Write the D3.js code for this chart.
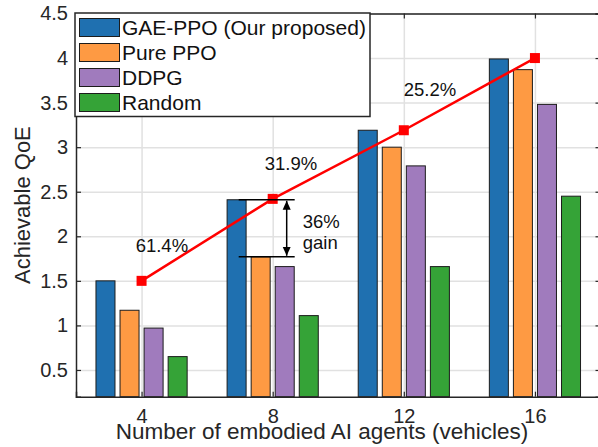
<!DOCTYPE html>
<html>
<head>
<meta charset="utf-8">
<script src="https://cdn.jsdelivr.net/npm/d3@7"></script>
<style>
  body { margin: 0; background: #fff; }
  svg { display: block; font-family: "Liberation Sans", Arial, sans-serif; }
</style>
</head>
<body>
<div id="chart"></div>
<script>
// chart data
const groups = [4, 8, 12, 16];
const series = ["GAE-PPO (Our proposed)", "Pure PPO", "DDPG", "Random"];
const colors = ["#1f70b0", "#fe9a43", "#a07bbd", "#35a337"];
const gaePpo = [1.50, 2.41, 3.19, 3.99];
const purePpo = [1.17, 1.77, 3.00, 3.87];
const ddpg = [0.97, 1.66, 2.79, 3.48];
const random = [0.65, 1.11, 1.66, 2.45];
const trend = [1.50, 2.42, 3.19, 4.00];
const gainLabels = ["61.4%", "31.9%", "25.2%"];
const gainPos = [[1.155, 1.90], [2.14, 2.82], [3.20, 3.65]];  // data coords (group index, QoE)
const yTicks = [0.5, 1, 1.5, 2, 2.5, 3, 3.5, 4, 4.5];

const values = [gaePpo, purePpo, ddpg, random];

const W = 598, H = 447;
const margin = {left: 76, top: 13.5, right: -2.5, bottom: 50.3};
const iw = W - margin.left - margin.right,
      ih = H - margin.top - margin.bottom;

const svg = d3.select("#chart").append("svg")
  .attr("width", W).attr("height", H);

const g = svg.append("g").attr("transform", `translate(${margin.left},${margin.top})`);

// groups live at 1..4 on a linear scale, xlim [0.5, 4.5]
const x = d3.scaleLinear().domain([0.5, 4.5]).range([0, iw]);
const y = d3.scaleLinear().domain([0.2, 4.5]).range([ih, 0]);
const step = x(2) - x(1);
const inner = d3.scaleBand().domain(d3.range(series.length))
  .range([-0.366 * step, 0.366 * step]).paddingInner(0.21).paddingOuter(0.1);

const axisColor = "#262626";

// grid
g.append("g").attr("class", "ygrid")
  .call(d3.axisLeft(y).tickValues(yTicks).tickSize(-iw).tickFormat(""))
  .call(s => s.select(".domain").remove())
  .call(s => s.selectAll("line").attr("stroke", "#e1e1e1").attr("stroke-width", 1.5));
g.append("g").attr("class", "xgrid")
  .attr("transform", `translate(0,${ih})`)
  .call(d3.axisBottom(x).tickValues([1, 2, 3, 4]).tickSize(-ih).tickFormat(""))
  .call(s => s.select(".domain").remove())
  .call(s => s.selectAll("line").attr("stroke", "#e1e1e1").attr("stroke-width", 1.5));

// bars
const barData = [];
values.forEach((vals, si) => vals.forEach((v, gi) => barData.push({si, gi, v})));
g.append("g").attr("class", "bars")
  .selectAll("rect")
  .data(barData)
  .join("rect")
    .attr("x", d => x(d.gi + 1) + inner(d.si))
    .attr("width", inner.bandwidth())
    .attr("y", d => y(d.v))
    .attr("height", d => y(0.2) - y(d.v))
    .attr("fill", d => colors[d.si])
    .attr("stroke", "#1c1c1c")
    .attr("stroke-width", 1);

// red trend line
const line = d3.line().x((d, i) => x(i + 1)).y(d => y(d));
g.append("path")
  .datum(trend)
  .attr("d", line)
  .attr("fill", "none")
  .attr("stroke", "#ff0000")
  .attr("stroke-width", 2.5);
g.append("g").selectAll("rect")
  .data(trend)
  .join("rect")
    .attr("x", (d, i) => x(i + 1) - 5)
    .attr("y", d => y(d) - 5)
    .attr("width", 10).attr("height", 10)
    .attr("fill", "#ff0000");

// axes (box)
const yAxisL = g.append("g")
  .call(d3.axisLeft(y).tickValues(yTicks).tickSize(-5).tickPadding(8).tickFormat(d3.format("")));
const yAxisR = g.append("g").attr("transform", `translate(${iw},0)`)
  .call(d3.axisRight(y).tickValues(yTicks).tickSize(-5).tickFormat(""));
const xAxisB = g.append("g").attr("transform", `translate(0,${ih})`)
  .call(d3.axisBottom(x).tickValues([1, 2, 3, 4]).tickSize(-5).tickPadding(12)
    .tickFormat((d, i) => groups[i]));
const xAxisT = g.append("g")
  .call(d3.axisTop(x).tickValues([1, 2, 3, 4]).tickSize(-5).tickFormat(""));
[yAxisL, yAxisR, xAxisB, xAxisT].forEach(a => {
  a.select(".domain").attr("stroke", axisColor).attr("stroke-width", 1.5);
  a.selectAll(".tick line").attr("stroke", axisColor).attr("stroke-width", 1.2);
  a.selectAll("text").attr("fill", axisColor).style("font-size", "20px")
    .style("font-family", "Liberation Sans, Arial, sans-serif");
});

// gain labels
g.append("g").selectAll("text")
  .data(gainLabels)
  .join("text")
    .attr("x", (d, i) => x(gainPos[i][0]))
    .attr("y", (d, i) => y(gainPos[i][1]))
    .attr("text-anchor", "middle")
    .attr("dominant-baseline", "central")
    .attr("fill", "#111")
    .style("font-size", "18.5px")
    .text(d => d);

// 36% gain annotation between GAE-PPO and Pure PPO at 8 agents
const ax = x(2);
const yHi = y(gaePpo[1]), yLo = y(purePpo[1]);
svg.append("defs").append("marker")
    .attr("id", "arr")
    .attr("viewBox", "0 -5 10 10")
    .attr("refX", 10).attr("refY", 0)
    .attr("markerWidth", 9).attr("markerHeight", 9)
    .attr("markerUnits", "userSpaceOnUse")
    .attr("orient", "auto-start-reverse")
  .append("path").attr("d", "M0,-4.5L10,0L0,4.5Z").attr("fill", "#000");
const ann = g.append("g");
[yHi, yLo].forEach(yy => ann.append("line")
  .attr("x1", ax - 34).attr("x2", ax + 22).attr("y1", yy).attr("y2", yy)
  .attr("stroke", "#000").attr("stroke-width", 1.5));
ann.append("line")
  .attr("x1", ax + 14).attr("x2", ax + 14)
  .attr("y1", yHi + 1).attr("y2", yLo - 1)
  .attr("stroke", "#000").attr("stroke-width", 1.5)
  .attr("marker-start", "url(#arr)").attr("marker-end", "url(#arr)");
ann.append("text").attr("x", ax + 30).attr("y", yHi + 21.5)
  .attr("dominant-baseline", "central").style("font-size", "18.5px").attr("fill", "#111")
  .text("36%");
ann.append("text").attr("x", ax + 30).attr("y", yHi + 42.5)
  .attr("dominant-baseline", "central").style("font-size", "18.5px").attr("fill", "#111")
  .text("gain");

// legend
const leg = svg.append("g").attr("transform", "translate(75,13)");
leg.append("rect").attr("width", 295).attr("height", 103.5)
  .attr("fill", "#fff").attr("stroke", axisColor).attr("stroke-width", 1.5);
const item = leg.selectAll(".item")
  .data(series)
  .join("g").attr("class", "item")
  .attr("transform", (d, i) => `translate(4.5,${5.5 + i * 25})`);
item.append("rect").attr("width", 40).attr("height", 18)
  .attr("fill", (d, i) => colors[i]).attr("stroke", "#1c1c1c").attr("stroke-width", 1);
item.append("text").attr("x", 42.5).attr("y", 9)
  .attr("dominant-baseline", "central")
  .attr("fill", "#111")
  .style("font-size", "21px")
  .text(d => d);

// axis titles
svg.append("text")
  .attr("x", 322).attr("y", 439)
  .attr("text-anchor", "middle")
  .attr("fill", axisColor)
  .style("font-size", "22.5px")
  .text("Number of embodied AI agents (vehicles)");
svg.append("text")
  .attr("transform", `translate(30,${margin.top + ih / 2}) rotate(-90)`)
  .attr("text-anchor", "middle")
  .attr("fill", axisColor)
  .style("font-size", "22px")
  .text("Achievable QoE");
</script>
</body>
</html>
